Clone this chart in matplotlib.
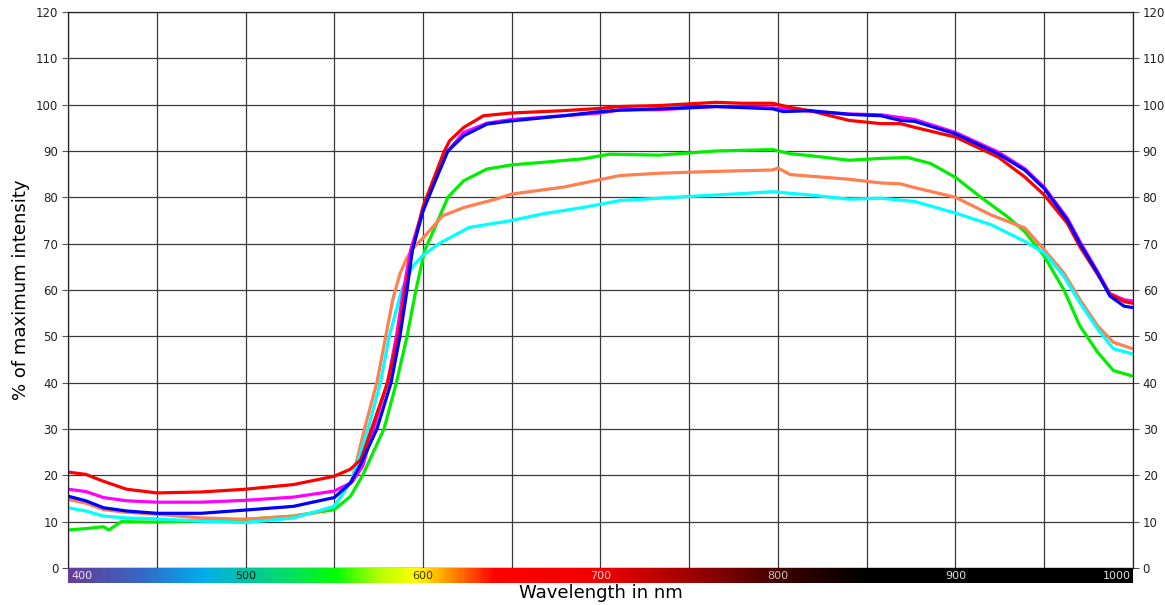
import numpy as np
import matplotlib
matplotlib.use("Agg")
import matplotlib.pyplot as plt
from matplotlib.colors import LinearSegmentedColormap


# --- data (wavelength in nm, % of max intensity) ---

red_wl = [400, 410, 420, 433, 450, 475, 500, 527, 550, 559, 565, 571, 580, 586, 590, 594,
          600, 606, 612, 615, 623, 634, 650, 679, 700, 711, 733, 765, 780, 797, 807, 818,
          840, 858, 869, 877, 900, 924, 939, 950, 963, 970, 980, 987, 995, 1000]
red_val = [20.7, 20.2, 18.7, 17.0, 16.2, 16.4, 17.0, 18.0, 19.8, 21.3, 23.4, 30, 40, 50, 60, 68.6,
           78, 84, 90, 92.2, 95.1, 97.6, 98.2, 98.7, 99.2, 99.6, 99.8, 100.5, 100.3, 100.3, 99.4, 98.7,
           96.6, 95.9, 95.9, 95.1, 93.0, 88.7, 84.4, 80.5, 74.4, 69.4, 63.4, 59.1, 57.5, 57.1]

blue_wl = [400, 410, 420, 433, 450, 475, 500, 527, 550, 559, 565, 574, 582, 587, 591, 594,
           600, 607, 614, 623, 636, 650, 679, 700, 711, 733, 765, 797, 803, 818, 840, 858,
           869, 877, 900, 924, 939, 950, 963, 970, 980, 987, 995, 1000]
blue_val = [15.5, 14.5, 13.0, 12.3, 11.8, 11.8, 12.5, 13.3, 15.2, 18.3, 22.5, 30, 40, 50, 60, 68.6,
            77, 83.6, 90, 93.3, 95.8, 96.5, 97.6, 98.5, 98.8, 99.1, 99.6, 99.1, 98.5, 98.7, 97.9, 97.6,
            96.6, 96.4, 93.7, 89.4, 85.9, 81.9, 75.1, 70.1, 63.7, 58.7, 56.5, 56.2]

magenta_wl = [400, 410, 420, 433, 450, 475, 500, 527, 550, 560, 566, 572, 580, 585, 589, 593,
              600, 607, 614, 623, 636, 650, 679, 700, 711, 733, 765, 797, 818, 840, 858, 877,
              900, 924, 939, 950, 963, 970, 980, 987, 995, 1000]
magenta_val = [17.0, 16.5, 15.2, 14.5, 14.2, 14.2, 14.6, 15.3, 16.6, 18.5, 22, 30, 40, 50, 60, 68.6,
               77.5, 84, 90, 94, 96, 96.8, 97.6, 98.2, 98.9, 98.9, 99.6, 99.3, 98.6, 98.0, 97.8, 96.8,
               94.0, 89.8, 86.2, 82.2, 75.5, 70.5, 64.0, 59.2, 57.9, 57.6]

green_wl = [400, 410, 420, 423, 430, 450, 475, 500, 527, 550, 559, 566, 578, 585, 591, 596,
            601, 605, 614, 623, 636, 650, 669, 690, 705, 720, 733, 765, 797, 807, 818, 840,
            858, 873, 886, 900, 914, 929, 939, 950, 961, 970, 980, 989, 1000]
green_val = [8.2, 8.5, 8.9, 8.2, 10.0, 9.9, 10.2, 10.5, 11.2, 12.6, 15.4, 20, 30, 40, 50, 60,
             68.6, 72, 80, 83.6, 86.1, 87.0, 87.6, 88.3, 89.3, 89.2, 89.1, 90.0, 90.3, 89.4, 89.0, 88.0,
             88.4, 88.6, 87.3, 84.3, 80.1, 75.9, 72.6, 67.3, 60.1, 52.3, 46.6, 42.6, 41.4]

coral_wl = [400, 410, 420, 433, 450, 475, 500, 527, 540, 550, 560, 567, 574, 579, 583, 587,
            591, 595, 600, 611, 623, 641, 650, 679, 711, 733, 765, 797, 800, 807, 840, 858,
            869, 877, 900, 920, 939, 950, 961, 970, 980, 989, 1000]
coral_val = [14.8, 14.0, 12.6, 12.0, 11.6, 10.8, 10.5, 11.2, 12.0, 13.3, 19, 30, 40, 50, 58, 63.5,
             67, 69.3, 71.2, 76.0, 77.8, 79.6, 80.7, 82.2, 84.7, 85.2, 85.6, 85.9, 86.3, 84.9, 83.9, 83.1,
             82.9, 82.1, 80.0, 76.2, 73.4, 68.7, 63.7, 58.0, 52.3, 48.7, 47.3]

cyan_wl = [400, 410, 420, 433, 450, 475, 500, 527, 550, 560, 569, 576, 581, 588, 594, 600,
           609, 626, 650, 667, 690, 711, 733, 765, 797, 818, 840, 858, 877, 900, 920, 939,
           950, 961, 970, 980, 989, 1000]
cyan_val = [13.0, 12.3, 11.2, 10.8, 10.6, 10.1, 9.8, 10.8, 13.3, 19, 30, 40, 50, 60, 65, 67.5,
            70, 73.5, 75, 76.4, 77.8, 79.3, 79.8, 80.5, 81.2, 80.5, 79.6, 79.8, 79.1, 76.6, 74.1, 70.5,
            68.0, 63.0, 57.3, 51.6, 47.3, 46.2]

# spectrum strip under the plot
spec_wl = [400, 440, 475, 500, 525, 550, 575, 595, 615, 640, 700, 760, 800, 850, 1000]
spec_col = ["#663d99", "#3568c4", "#00aeef", "#00c4a0", "#00e060", "#00ff00", "#b8ff00",
            "#ffff00", "#ff9000", "#ff0000", "#f00000", "#900000", "#400000", "#000000", "#000000"]
spec_labels = [400, 500, 600, 700, 800, 900, 1000]
spec_label_col = ["#e8e0f0", "#1a1a1a", "#3a3a00", "#ffd0d0", "#d0c0c0", "#e0e0e0", "#e0e0e0"]


fig = plt.figure(figsize=(11.65, 6.05), dpi=100)
ax = fig.add_axes([0.0584, 0.0612, 0.9141, 0.9190])

series = [
    (green_wl, green_val, "#00ee00"),
    (coral_wl, coral_val, "#ff7f50"),
    (cyan_wl, cyan_val, "#00ffff"),
    (magenta_wl, magenta_val, "#ff00ff"),
    (red_wl, red_val, "#ff0000"),
    (blue_wl, blue_val, "#0000ff"),
]
for wl, val, col in series:
    ax.plot(wl, val, color=col, lw=2.3, solid_capstyle="butt")

ax.set_xlim(400, 1000)
ax.set_ylim(0, 120)
ax.set_xticks(np.arange(400, 1001, 50))
ax.set_yticks(np.arange(0, 121, 10))
ax.grid(True, color="#3a3a3a", lw=0.9)
ax.set_axisbelow(True)
ax.tick_params(axis="x", length=0, labelbottom=False)
ax.tick_params(axis="y", length=4, width=0.8, color="#555555", labelsize=8.5,
               labelcolor="#222222", right=True, labelright=True, pad=3)
for s in ax.spines.values():
    s.set_color("#222222")
    s.set_linewidth(0.9)
ax.set_ylabel("% of maximum intensity", fontsize=13, labelpad=4)

# spectrum colour bar
cmap = LinearSegmentedColormap.from_list(
    "spec", [((w - 400) / 600, c) for w, c in zip(spec_wl, spec_col)])
cax = fig.add_axes([0.0584, 0.0364, 0.9141, 0.0240])
cax.imshow(np.linspace(400, 1000, 600)[None, :], aspect="auto", cmap=cmap,
           extent=[400, 1000, 0, 1])
cax.set_xlim(400, 1000)
cax.set_axis_off()
for lab, lc in zip(spec_labels, spec_label_col):
    ha = "left" if lab == 400 else ("right" if lab == 1000 else "center")
    x = lab + 2 if lab == 400 else (lab - 1 if lab == 1000 else lab)
    cax.text(x, 0.45, str(lab), ha=ha, va="center", fontsize=8, color=lc)

fig.text(0.5155, 0.020, "Wavelength in nm", ha="center", va="center", fontsize=13)

fig.savefig("out.png", dpi=100)
